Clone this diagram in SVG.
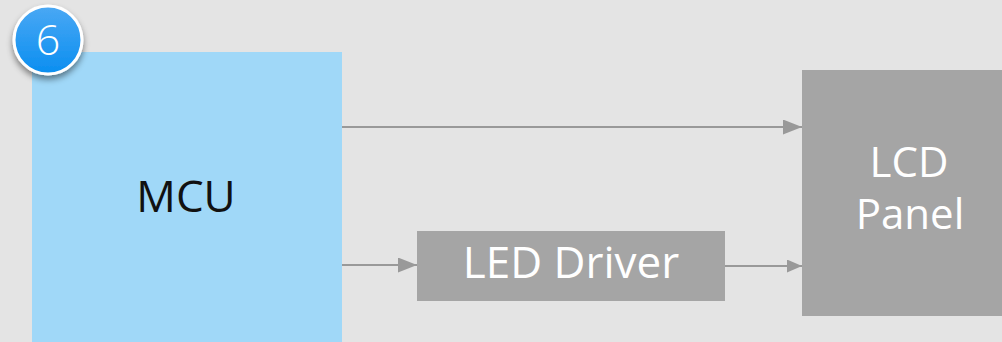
<svg xmlns="http://www.w3.org/2000/svg" width="1002" height="342" viewBox="0 0 1002 342">
  <defs>
    <style>
      .label { font-family: "Open Sans", "Noto Sans", "DejaVu Sans", sans-serif; font-size: 44px; text-anchor: middle; }
      .stacked { font-size: 42px; }
      .light { fill: #ffffff; }
      .dark { fill: #111111; }
      .block { fill: #a5a5a5; }
      .wire { stroke: #999999; stroke-width: 2; fill: none; }
    </style>
    <marker id="arrow" viewBox="0 0 10 10" refX="10" refY="5" markerUnits="userSpaceOnUse" markerWidth="19" markerHeight="15" preserveAspectRatio="none" orient="auto">
      <path d="M0,0 L10,5 L0,10 Z" fill="#999999"/>
    </marker>
    <marker id="arrowSmall" viewBox="0 0 10 10" refX="10" refY="5" markerUnits="userSpaceOnUse" markerWidth="15" markerHeight="13" preserveAspectRatio="none" orient="auto">
      <path d="M0,0 L10,5 L0,10 Z" fill="#999999"/>
    </marker>
    <linearGradient id="badgeFill" x1="0" y1="0" x2="0" y2="1">
      <stop offset="0" stop-color="#4aa8f4"/>
      <stop offset="1" stop-color="#0a8ef0"/>
    </linearGradient>
    <filter id="badgeShadow" x="-30%" y="-30%" width="160%" height="170%">
      <feDropShadow dx="0" dy="4" stdDeviation="3" flood-color="#000000" flood-opacity="0.45"/>
    </filter>
  </defs>

  <rect width="1002" height="342" fill="#e4e4e4"/>

  <g id="connectors">
    <line class="wire" x1="340" y1="127" x2="802" y2="127" marker-end="url(#arrow)"/>
    <line class="wire" x1="340" y1="265" x2="417" y2="265" marker-end="url(#arrow)"/>
    <line class="wire" x1="725" y1="266" x2="802" y2="266" marker-end="url(#arrowSmall)"/>
  </g>

  <g id="mcu">
    <rect x="32" y="52" width="310" height="290" fill="#a0d8f8"/>
    <text class="label dark" x="186" y="212">MCU</text>
  </g>

  <g id="led-driver">
    <rect class="block" x="417" y="231" width="308" height="70"/>
    <text class="label light" x="571" y="278">LED Driver</text>
  </g>

  <g id="lcd-panel">
    <rect class="block" x="802" y="70" width="200" height="246"/>
    <text class="label stacked light"><tspan x="909" y="177">LCD</tspan><tspan x="910" y="229">Panel</tspan></text>
  </g>

  <g id="badge">
    <circle cx="48" cy="40" r="34" fill="url(#badgeFill)" stroke="#ffffff" stroke-width="3" filter="url(#badgeShadow)"/>
    <text x="48" y="55" font-family="Open Sans, Noto Sans, sans-serif" font-size="43" font-weight="300" fill="#ffffff" text-anchor="middle">6</text>
  </g>
</svg>
